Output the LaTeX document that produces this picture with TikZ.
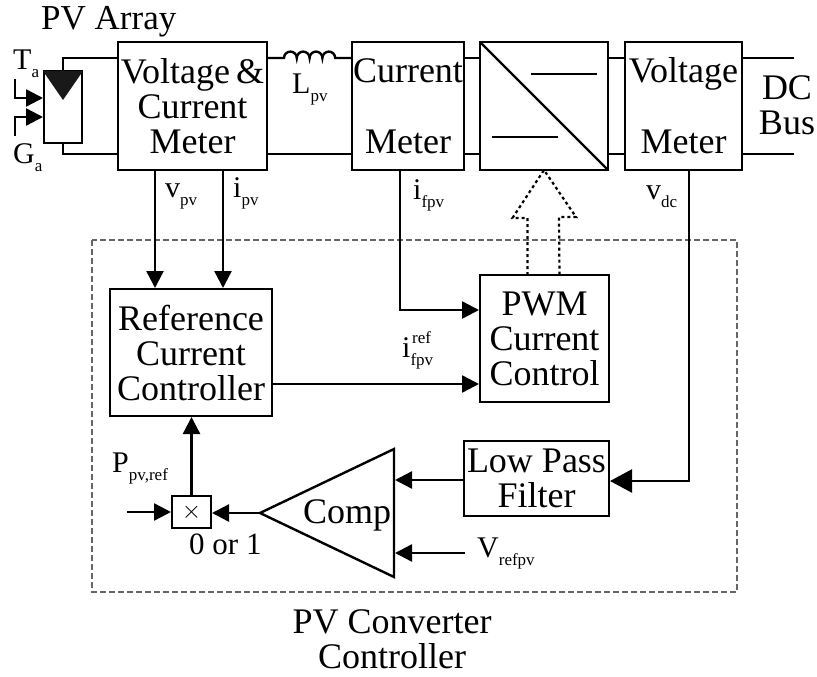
\documentclass[tikz,border=0pt]{standalone}
\usepackage{fontspec}
\setmainfont{Liberation Serif}
\usetikzlibrary{calc,arrows.meta,positioning}
\newcommand{\subtxt}[2]{#1\raisebox{-8pt}{\fontsize{17}{17}\selectfont #2}}
\tikzset{
  block/.style={draw, line width=2.4pt, inner sep=0pt, outer sep=0pt, align=center},
  lbl/.style={inner sep=0pt, anchor=base west},
  siglbl/.style={lbl, font=\fontsize{30}{30}\selectfont},
  wire/.style={line width=2.4pt},
  sig/.style={line width=2.4pt, shorten >=1pt, -{Triangle[length=17pt,width=17pt]}},
  bigsig/.style={line width=2.4pt, shorten >=1pt, -{Triangle[length=22pt,width=23pt]}},
}
\begin{document}
\begin{tikzpicture}[x=1pt,y=-1pt,font=\fontsize{36}{35}\selectfont]
  \useasboundingbox (0,0) rectangle (817,677);
  % controller outline
  \draw[gray!80!black, line width=1.1pt, dash pattern=on 6pt off 3pt] (92,240) rectangle (737,592);
  % power path
  \node[block, minimum width=149pt, minimum height=128pt] (vcmeter) at (192.5,106) {Voltage\,\&\\Current\\Meter};
  \node[block, minimum width=112pt, minimum height=128pt] (cmeter) at (408,106) {Current\\[36pt]Meter};
  \node[block, minimum width=128pt, minimum height=128pt] (conv) at (544,106) {};
  \node[block, minimum width=117pt, minimum height=128pt] (vmeter) at (683.5,106) {Voltage\\[36pt]Meter};
  \draw[wire] (conv.north west) -- (conv.south east);
  \draw[wire] ([xshift=51pt,yshift=-32pt]conv.north west) -- ([xshift=117pt,yshift=-32pt]conv.north west);
  \draw[wire] ([xshift=12pt,yshift=-95pt]conv.north west) -- ([xshift=78pt,yshift=-95pt]conv.north west);
  % wires between the meters
  \coordinate (lin) at ([yshift=-16pt]vcmeter.north east);
  \coordinate (lout) at ([yshift=-16pt]cmeter.north west);
  \draw[wire] (lin) -- ++(17,0) arc[start angle=180,end angle=0,radius=6.4pt]
    arc[start angle=180,end angle=0,radius=6.4pt]
    arc[start angle=180,end angle=0,radius=6.4pt]
    arc[start angle=180,end angle=0,radius=6.4pt] -- (lout);
  \draw[wire] ([yshift=16pt]vcmeter.south east) -- ([yshift=16pt]cmeter.south west);
  \draw[wire] ([yshift=-16pt]cmeter.north east) -- ([yshift=-16pt]conv.north west);
  \draw[wire] ([yshift=16pt]cmeter.south east) -- ([yshift=16pt]conv.south west);
  \draw[wire] ([yshift=-16pt]conv.north east) -- ([yshift=-16pt]vmeter.north west);
  \draw[wire] ([yshift=16pt]conv.south east) -- ([yshift=16pt]vmeter.south west);
  \coordinate (bustop) at (794,58);
  \coordinate (busbot) at (794,154);
  \draw[wire] ([yshift=-16pt]vmeter.north east) -- (bustop);
  \draw[wire] ([yshift=16pt]vmeter.south east) -- (busbot);
  \node[align=center, inner sep=0pt] (dcbus) at (787,105) {DC\\Bus};
  % pv module
  \node[block, minimum width=38pt, minimum height=72pt] (pvmod) at (63,107) {};
  \fill[black!90] ([xshift=-1pt]pvmod.north west) -- ([xshift=1pt]pvmod.north east) -- ([yshift=-29pt]pvmod.north) -- cycle;
  \draw[wire] (pvmod.north) |- ([yshift=-16pt]vcmeter.north west);
  \draw[wire] (pvmod.south) |- ([yshift=16pt]vcmeter.south west);
  \coordinate (tastart) at (15,79);
  \coordinate (gastart) at (15,136);
  \draw[sig] (tastart) |- ([yshift=-27pt]pvmod.north west);
  \draw[sig] (gastart) |- ([yshift=-46pt]pvmod.north west);
  \node[lbl, font=\fontsize{35}{35}\selectfont] (pvarray) at (41,30) {PV Array};
  \node[siglbl] (ta) at (13,70) {\subtxt{T}{a}};
  \node[siglbl] (ga) at (13,163) {\subtxt{G}{a}};
  \node[siglbl] (lpv) at (292,94) {\subtxt{L}{pv}};
  % control blocks
  \node[block, minimum width=162pt, minimum height=127pt] (refctrl) at (191,352.5) {Reference\\Current\\Controller};
  \node[block, minimum width=129pt, minimum height=127pt] (pwm) at (544.5,338.5) {PWM\\Current\\Control};
  \node[block, minimum width=145pt, minimum height=75pt] (lpf) at (536.5,478.5) {Low Pass\\Filter};
  \node[block, minimum width=39pt, minimum height=32pt, font=\fontsize{30}{30}\selectfont] (mult) at (191.5,512) {$\times$};
  \coordinate (cmpout) at (260,513);
  \coordinate (cmptop) at (394,449);
  \coordinate (cmpbot) at (394,577);
  \draw[wire, line join=miter] (cmpout) -- (cmptop) -- (cmpbot) -- cycle;
  \node[lbl] (comp) at (303,523) {Comp};
  % measurements
  \draw[sig] ([xshift=-37.5pt]vcmeter.south) -- (refctrl.north -| 155,0);
  \draw[sig] ([xshift=30.5pt]vcmeter.south) -- (refctrl.north -| 223,0);
  \draw[sig] ([xshift=-8pt]cmeter.south) |- ([yshift=-35pt]pwm.north west);
  \draw[bigsig] ([xshift=5.5pt]vmeter.south) |- ([yshift=-2.5pt]lpf.east);
  \draw[sig] (refctrl.east |- pwm.east) ++(0,45.5) -- ([yshift=18pt]pwm.south west);
  \node[siglbl] (vpv) at (165,197) {\subtxt{v}{pv}};
  \node[siglbl] (ipv) at (233,197) {\subtxt{i}{pv}};
  \node[siglbl] (ifpv) at (413,199) {\subtxt{i}{fpv}};
  \node[siglbl] (vdc) at (646,199) {\subtxt{v}{dc}};
  \node[siglbl] (iref) at (402,357) {\subtxt{i}{fpv}};
  \node[lbl, font=\fontsize{17}{17}\selectfont] (irefup) at (412,343) {ref};
  % comparator side
  \draw[sig] (lpf.west |- 0,480) -- (cmptop |- 0,480);
  \coordinate (vrefin) at (465,553);
  \draw[sig] (vrefin) -- (cmptop |- vrefin);
  \node[siglbl] (vref) at (477,557) {\subtxt{V}{refpv}};
  \draw[sig] (cmpout) -- (mult.east |- cmpout);
  \coordinate (pin) at (127,512);
  \draw[sig] (pin) -- (mult.west);
  \draw[sig] (mult.north) -- (refctrl.south -| mult.north);
  \node[siglbl] (pref) at (112,472) {\subtxt{P}{pv,ref}};
  \node[lbl, font=\fontsize{31}{31}\selectfont] (zero) at (189,554) {0 or 1};
  % gate signals
  \draw[line width=2.2pt, dash pattern=on 3pt off 3pt, line join=miter]
    ([xshift=-17pt]pwm.north) -- ++(0,-57) -- ++(-15,0) -- (conv.south) -- ++(32,47) -- ++(-17,0) -- ([xshift=15pt]pwm.north);
  \node[align=center, inner sep=0pt] (title) at (392,639) {PV Converter\\Controller};
\end{tikzpicture}
\end{document}
